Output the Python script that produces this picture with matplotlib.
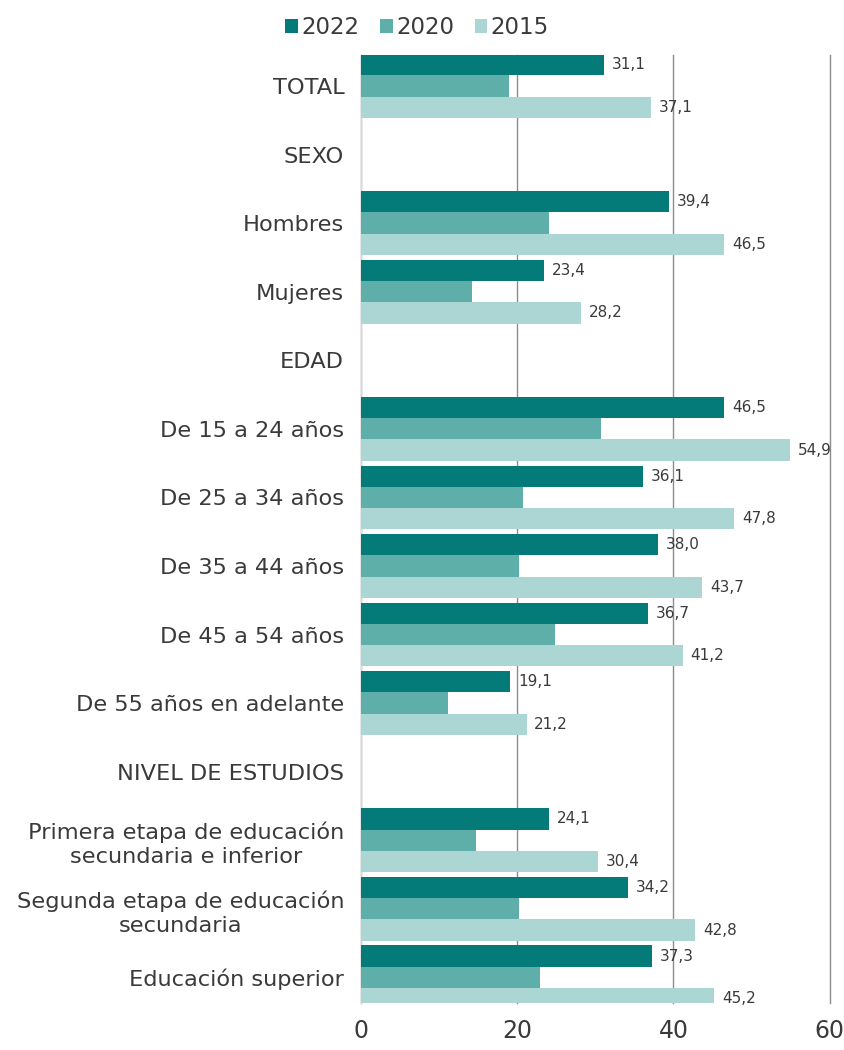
import matplotlib.pyplot as plt
import numpy as np

plt.rcParams['font.family'] = ['DejaVu Sans']

# categories (headers have no bars)
categories = ['TOTAL', 'SEXO', 'Hombres', 'Mujeres', 'EDAD', 'De 15 a 24 años',
              'De 25 a 34 años', 'De 35 a 44 años', 'De 45 a 54 años',
              'De 55 años en adelante', 'NIVEL DE ESTUDIOS',
              'Primera etapa de educación\nsecundaria e inferior',
              'Segunda etapa de educación\nsecundaria', 'Educación superior']
v2022 = [31.1, None, 39.4, 23.4, None, 46.5, 36.1, 38.0, 36.7, 19.1, None, 24.1, 34.2, 37.3]
v2020 = [19.0, None, 24.1, 14.2, None, 30.7, 20.7, 20.3, 24.9, 11.2, None, 14.7, 20.3, 22.9]
v2015 = [37.1, None, 46.5, 28.2, None, 54.9, 47.8, 43.7, 41.2, 21.2, None, 30.4, 42.8, 45.2]

c2022 = '#047b78'
c2020 = '#5eaea9'
c2015 = '#acd6d4'

fig = plt.figure(figsize=(8.45, 10.5), dpi=100)
ax = fig.add_axes([0.427, 0.045, 0.555, 0.9025])

y = np.arange(len(categories))
h = 0.31
series = [(v2022, c2022, '2022', -h), (v2020, c2020, '2020', 0), (v2015, c2015, '2015', h)]
for vals, col, lab, off in series:
    idx = [i for i, v in enumerate(vals) if v is not None]
    vv = [vals[i] for i in idx]
    ax.barh(y[idx] + off, vv, height=h, color=col, label=lab, edgecolor='none', zorder=3)

# value labels only for 2022 and 2015
for vals, off in [(v2022, -h), (v2015, h)]:
    for i, v in enumerate(vals):
        if v is not None:
            ax.text(v + 1.0, y[i] + off, f'{v:.1f}'.replace('.', ','), va='center', ha='left',
                    fontsize=11, color='#3a3a3a', clip_on=False, zorder=4)

ax.set_xlim(0, 60)
ax.set_ylim(13.37, -0.45)
ax.set_yticks(y)
ax.set_yticklabels(categories, fontsize=16.2, color='#3a3a3a', ha='right', linespacing=1.25)
for t in ax.get_yticklabels():
    t.set_multialignment('center')
ax.set_xticks([0, 20, 40, 60])
ax.set_xticklabels(['0', '20', '40', '60'], fontsize=17, color='#3a3a3a')
ax.tick_params(axis='y', length=0, pad=12)
ax.tick_params(axis='x', length=0, pad=12)
ax.grid(axis='x', color='#8c8c8c', linewidth=1.0, zorder=0)
for gl in ax.get_xgridlines():
    gl.set_clip_on(False)
for s in ['top', 'right', 'bottom']:
    ax.spines[s].set_visible(False)
ax.spines['left'].set_color('#d9d9d9')

ax.legend(loc='lower center', bbox_to_anchor=(0.12, 0.995), ncol=3, frameon=False,
          fontsize=16.5, handlelength=0.55, handleheight=0.55, handletextpad=0.15,
          columnspacing=0.9, labelcolor='#3a3a3a')

fig.savefig('out.png', dpi=100)
